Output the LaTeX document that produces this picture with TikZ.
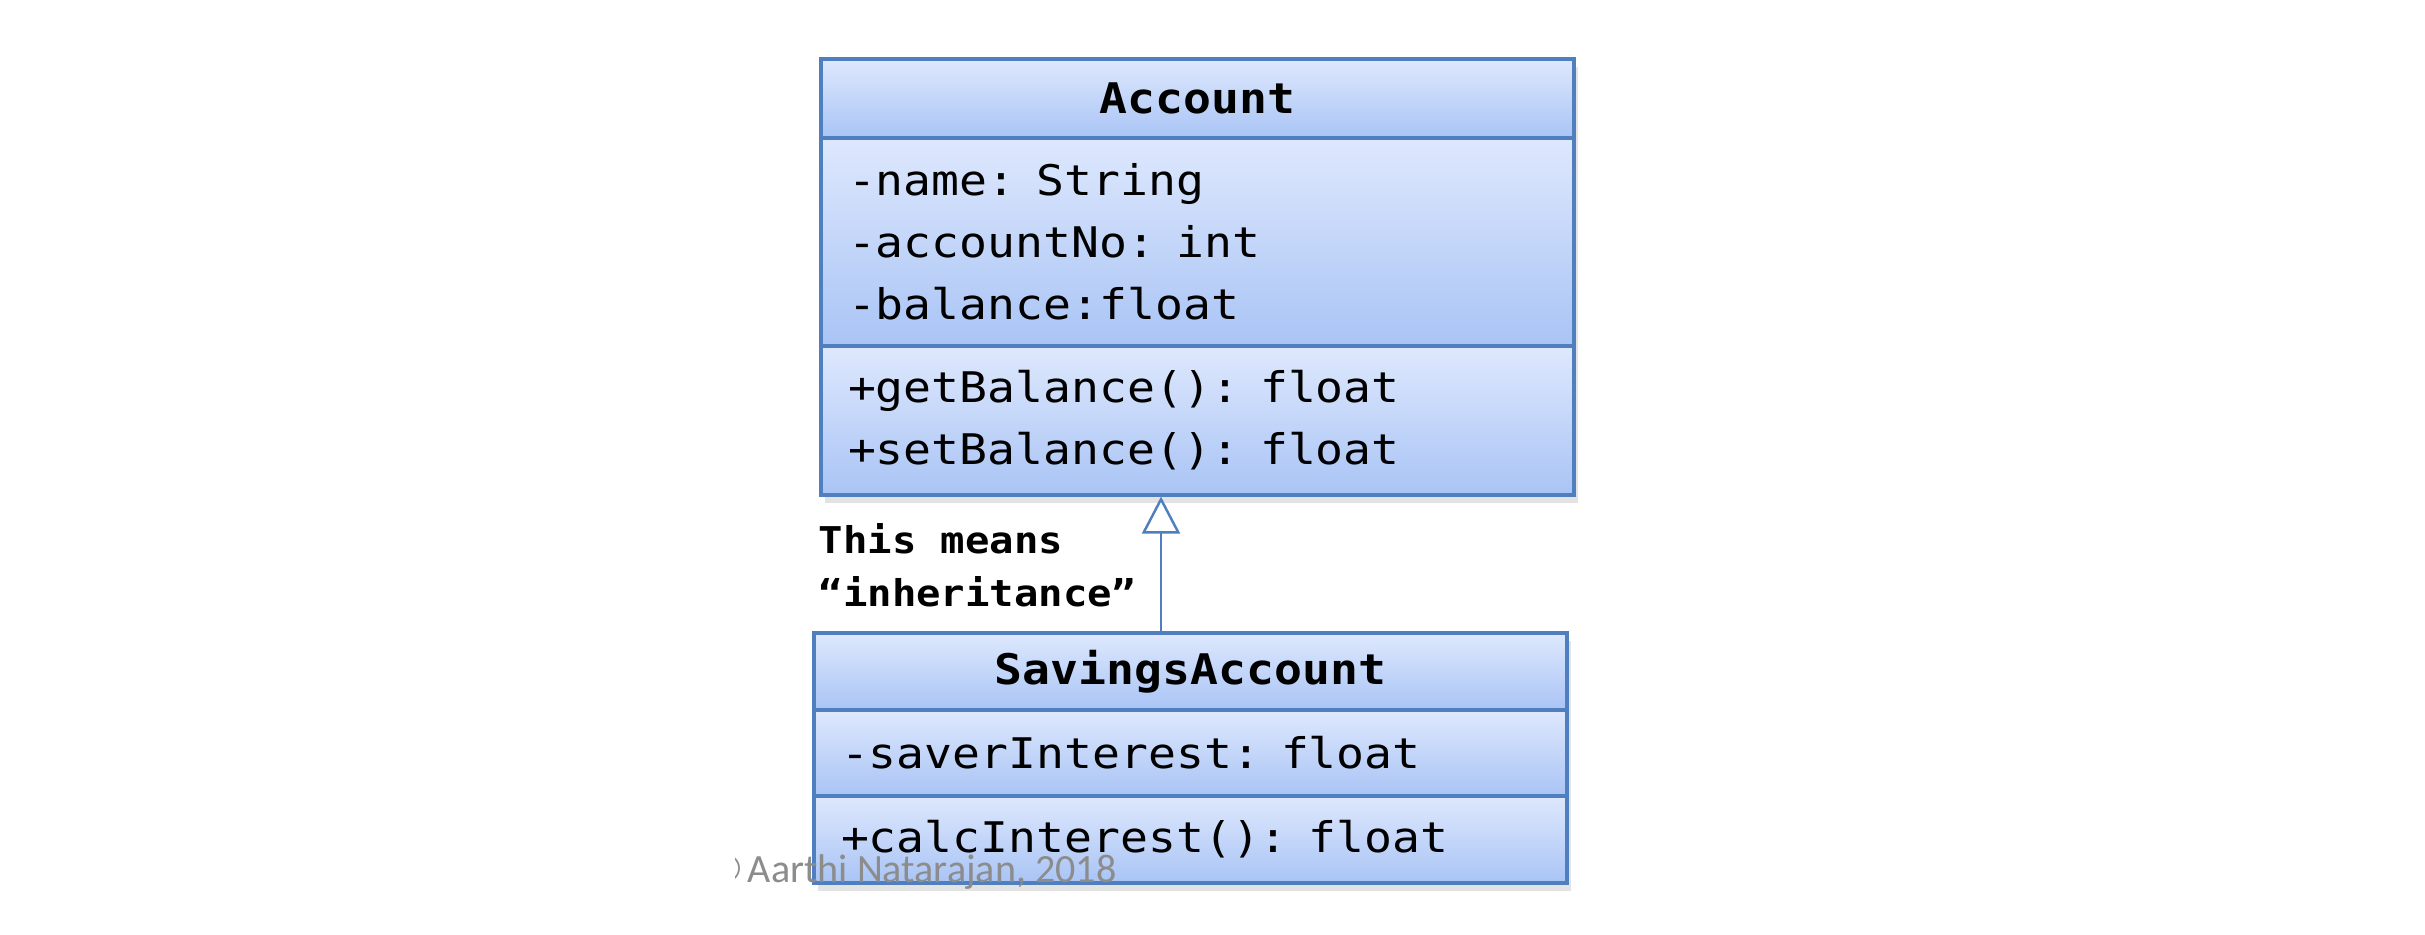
\documentclass[tikz,border=0pt]{standalone}
\usepackage{fontspec}
\usetikzlibrary{arrows.meta,shadows}
\newfontfamily\umlfont[FakeStretch=1.1]{DejaVu Sans Mono}
\newfontfamily\creditfont{Carlito}
\newfontfamily\copyfont{Liberation Sans}
\definecolor{umltop}{HTML}{DEE8FD}
\definecolor{umlbot}{HTML}{A9C4F5}
\definecolor{umlline}{HTML}{4F7FBF}
\definecolor{creditgray}{HTML}{8C8C8C}

\begin{document}
\begin{tikzpicture}[
  part/.style={draw=umlline,line width=0.9pt,top color=umltop,bottom color=umlbot,inner ysep=0pt,
    inner xsep=0.27cm,text width=6.99cm,align=left,font=\umlfont\fontsize{12}{17.6}\selectfont,
    drop shadow={shadow xshift=0.4mm,shadow yshift=-0.8mm,opacity=0.22}},
  head/.style={part,align=center,font=\umlfont\bfseries\fontsize{12}{14}\selectfont},
  genarrow/.style={draw=umlline,line width=0.7pt,-{Triangle[open,length=3.7mm,width=3.8mm]}}]
\useasboundingbox[fill=white] (0,0) rectangle (24.25,9.34);
% superclass
\node[head,minimum height=0.79cm] (acchead) at (11.975,8.355) {Account};
\node[part,minimum height=2.08cm] (accattr) at (11.975,6.92) {-name: String\\-accountNo: int\\-balance:float};
\node[part,minimum height=1.49cm] (accops) at (11.975,5.135) {+getBalance(): float\\+setBalance(): float};
% subclass
\node[head,minimum height=0.77cm] (savhead) at (11.905,2.625) {SavingsAccount};
\node[part,minimum height=0.86cm] (savattr) at (11.905,1.81) {-saverInterest: float};
\node[part,minimum height=0.87cm] (savops) at (11.905,0.945) {+calcInterest(): float};
% inheritance
\coordinate (gen) at (11.61,0);
\draw[genarrow] (gen |- savhead.north) -- (gen |- accops.south);
\node[anchor=west,align=left,inner sep=0pt,font=\umlfont\bfseries\fontsize{10.5}{15.1}\selectfont] (means) at (8.18,3.69) {This means\\“inheritance”};
% credit
\begin{scope}
\clip (7.35,0) rectangle (12,1.3);
\node[anchor=base east,inner sep=0pt,text=creditgray,font=\creditfont\fontsize{11.4}{13}\selectfont] (credit) at (11.17,0.52) {{\copyfont ©}\,Aarthi Natarajan, 2018};
\end{scope}
\end{tikzpicture}
\end{document}
